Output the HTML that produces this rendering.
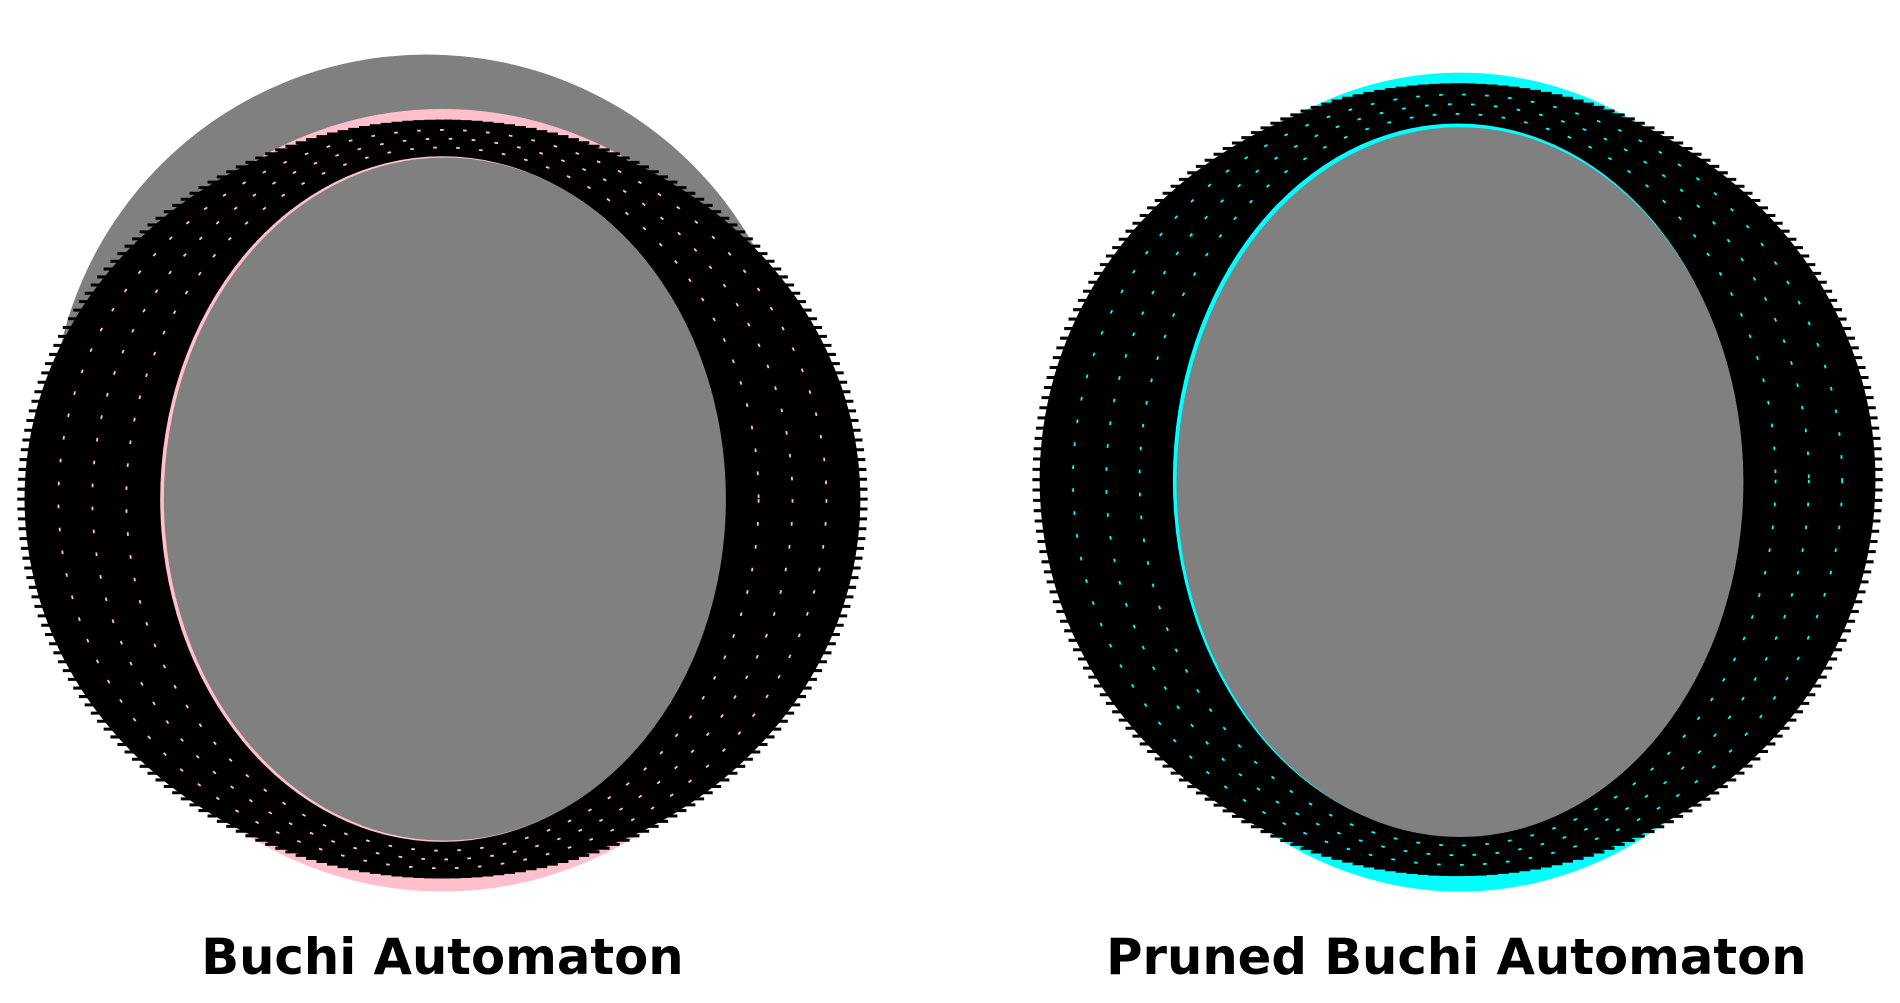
<!DOCTYPE html>
<html><head><meta charset="utf-8"><style>
html,body{margin:0;padding:0;background:#fff;}
svg{display:block;}
text{font-family:"DejaVu Sans","Liberation Sans",sans-serif;font-weight:bold;}
</style></head><body>
<svg id="chart" width="1900" height="1003" viewBox="0 0 1568 828">
<g id="left">
  <circle cx="352" cy="355" r="310" fill="#808080"/>
  <ellipse cx="365" cy="413" rx="312" ry="323" fill="#ffc0cb"/>
  <path id="lring" fill="#000" fill-rule="evenodd"/>
  <g id="ltex"></g>
  <ellipse cx="367" cy="412" rx="232" ry="282" fill="#808080"/>
  <text x="365" y="804" font-size="41" text-anchor="middle">Buchi Automaton</text>
</g>
<g id="right">
  <ellipse cx="1205" cy="398" rx="305" ry="338" fill="#00ffff"/>
  <path id="rring" fill="#000" fill-rule="evenodd"/>
  <g id="rtex"></g>
  <ellipse cx="1205" cy="398" rx="234" ry="293" fill="#808080"/>
  <text x="1202" y="804" font-size="41" text-anchor="middle">Pruned Buchi Automaton</text>
</g>
</svg>
<script>
const panels = ["left","right"];
const centersX = [365, 1203];
const centersY = [412, 396];
const outerRx = [345, 345];
const outerRy = [312, 326];
const innerRx = [233, 235];
const innerRy = [283, 294];
const accent = ["#ffc0cb", "#00ffff"];
function ell(cx,cy,rx,ry){return `M${cx-rx},${cy}a${rx},${ry} 0 1,0 ${2*rx},0a${rx},${ry} 0 1,0 ${-2*rx},0Z`;}
const NS="http://www.w3.org/2000/svg";
panels.forEach((p,i)=>{
  const cx=centersX[i],cy=centersY[i];
  document.getElementById(i?"rring":"lring").setAttribute("d",
    ell(cx,cy,outerRx[i],outerRy[i])+ell(cx,cy,innerRx[i],innerRy[i]));
  const g=document.getElementById(i?"rtex":"ltex");
  for(let k=0;k<3;k++){
    const e=document.createElementNS(NS,"ellipse");
    
    
    const t=(k+1)/4;
    e.setAttribute("cx",cx);e.setAttribute("cy",cy);
    e.setAttribute("rx",innerRx[i]+(outerRx[i]-innerRx[i])*t);
    e.setAttribute("ry",innerRy[i]+(outerRy[i]-innerRy[i])*t);
    e.setAttribute("fill","none");e.setAttribute("stroke",accent[i]);
    e.setAttribute("stroke-width","1.5");e.setAttribute("stroke-dasharray","3 16");
    g.appendChild(e);
  }
  for(let a=0;a<360;a+=1.5){
    const r=a*Math.PI/180;
    const x=cx+outerRx[i]*Math.cos(r), y=cy+outerRy[i]*Math.sin(r);
    const l=document.createElementNS(NS,"line");
    
    
    const dx=Math.cos(r)>0?1:-1;
    l.setAttribute("x1",x-dx*8);l.setAttribute("y1",y);
    l.setAttribute("x2",x+dx*6);l.setAttribute("y2",y);
    l.setAttribute("stroke","#000");l.setAttribute("stroke-width","2.5");
    g.appendChild(l);
  }
});
</script>
</body></html>
